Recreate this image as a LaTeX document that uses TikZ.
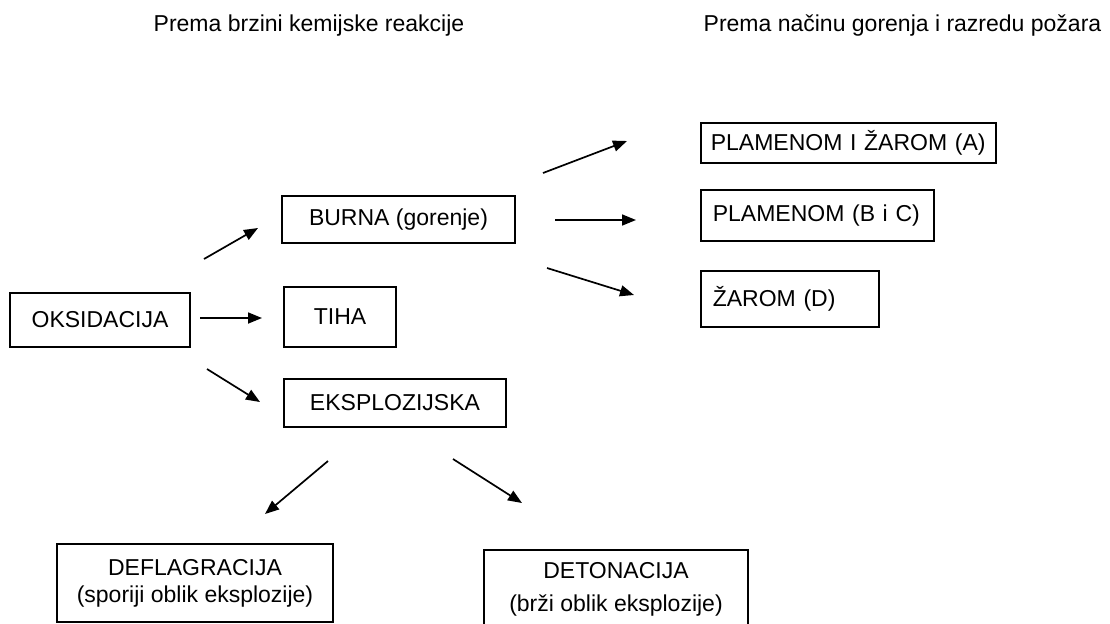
\documentclass[tikz,border=0pt]{standalone}
\usepackage{fontspec}
\setmainfont{Liberation Sans}
\usepackage{tikz}
\usetikzlibrary{arrows.meta}

\begin{document}
\begin{tikzpicture}[x=0.5pt, y=-0.5pt,
    txt/.style={font=\fontsize{11.5}{13.5}\selectfont},
    box/.style={txt, draw, line width=0.8pt, inner sep=0pt, align=center},
    rbox/.style={box, anchor=west, align=left, inner xsep=6pt},
    arr/.style={line width=0.85pt, -{Triangle[length=7pt,width=5.5pt]}}]

\useasboundingbox (0,0) rectangle (1110,623);

% ---- Headings ----
\node[txt] (hleft)  at (309,26)   {Prema brzini kemijske reakcije};
\node[txt] (hright) at (902.5,26) {Prema načinu gorenja i razredu požara};

% ---- Boxes ----
\node[box, minimum width=90pt,    minimum height=27pt]   (oks)   at (100,320)     {OKSIDACIJA};
\node[box, minimum width=116.5pt, minimum height=23.5pt] (burna) at (398.5,219.5) {BURNA (gorenje)};
\node[box, minimum width=56pt,    minimum height=30pt]   (tiha)  at (340,317)     {TIHA};
\node[box, minimum width=111pt,   minimum height=24pt]   (eksp)  at (395,403)     {EKSPLOZIJSKA};

\node[rbox, inner xsep=5pt, text width=137.5pt, minimum height=20pt] (plza) at (700,143) {PLAMENOM I ŽAROM (A)};
\node[rbox, text width=104.5pt, minimum height=25.5pt] (plam) at (700,215.5) {PLAMENOM (B i C)};
\node[rbox, text width=77pt,    minimum height=28pt]   (zar)  at (700,299)   {ŽAROM (D)};

\node[box, minimum width=138pt, minimum height=39pt] (defl) at (195,583)
    {DEFLAGRACIJA\\(sporiji oblik eksplozije)};
\node[box, minimum width=132pt, minimum height=39pt] (deto) at (616,589)
    {DETONACIJA\\[3pt](brži oblik eksplozije)};

% ---- Arrow ends ----
\coordinate (o1) at (204,259);   % towards burna
\coordinate (o2) at (258,228);
\coordinate (t1) at (200,318);   % towards tiha
\coordinate (t2) at (262,318);
\coordinate (e1) at (207,369);   % towards eksplozijska
\coordinate (e2) at (260,402);
\coordinate (b1) at (543,173);   % burna -> classes
\coordinate (b2) at (627,141);
\coordinate (b3) at (555,220);
\coordinate (b4) at (636,220);
\coordinate (b5) at (547,268);
\coordinate (b6) at (634,295);
\coordinate (x1) at (328,461);   % eksplozijska -> kinds
\coordinate (x2) at (265,514);
\coordinate (x3) at (453,459);
\coordinate (x4) at (522,503);

% ---- Arrows ----
\draw[arr] (o1) -- (o2);
\draw[arr] (t1) -- (t2);
\draw[arr] (e1) -- (e2);
\draw[arr] (b1) -- (b2);
\draw[arr] (b3) -- (b4);
\draw[arr] (b5) -- (b6);
\draw[arr] (x1) -- (x2);
\draw[arr] (x3) -- (x4);

\end{tikzpicture}
\end{document}
